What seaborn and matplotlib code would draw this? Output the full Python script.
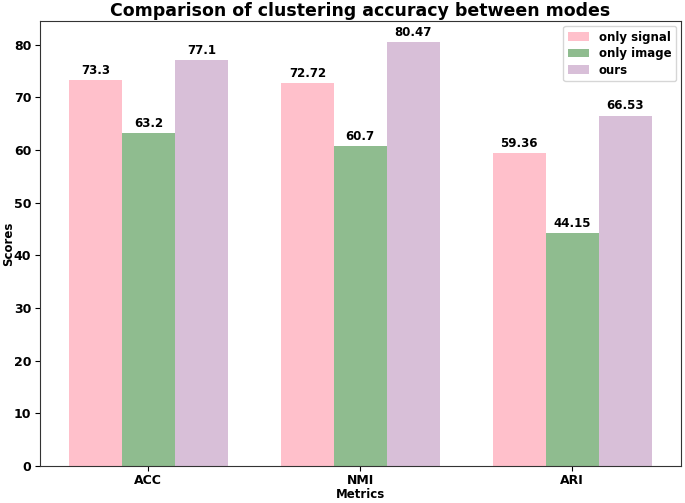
import matplotlib
matplotlib.use("Agg")
import matplotlib.pyplot as plt
import seaborn as sns
import pandas as pd

metrics = ["ACC", "NMI", "ARI"]
modes = ["only signal", "only image", "ours"]
only_signal = [73.3, 72.72, 59.36]
only_image = [63.2, 60.7, 44.15]
ours = [77.1, 80.47, 66.53]
colors = ["#FFC0CB", "#8FBC8F", "#D8BFD8"]

rows = []
for mode, vals in zip(modes, [only_signal, only_image, ours]):
    for m, v in zip(metrics, vals):
        rows.append({"Metrics": m, "Mode": mode, "Scores": v})
df = pd.DataFrame(rows)

fig, ax = plt.subplots(figsize=(6.85, 5.03), dpi=100)
sns.barplot(data=df, x="Metrics", y="Scores", hue="Mode", order=metrics,
            hue_order=modes, palette=colors, saturation=1, width=0.75, ax=ax)

for c in ax.containers:
    ax.bar_label(c, labels=[f"{v:g}" for v in c.datavalues], padding=2.5,
                 fontweight="bold", fontsize=8.5)

ax.set_xlim(-0.5125, 2.5125)
ax.set_ylim(0, 84.5)
ax.set_title("Comparison of clustering accuracy between modes", fontsize=12.5,
             fontweight="bold", pad=4)
ax.set_xlabel("Metrics", fontweight="bold", fontsize=8.5, labelpad=0.5)
ax.set_ylabel("Scores", fontweight="bold", fontsize=8.5)
ax.yaxis.set_label_coords(-0.038, 0.5)
ax.tick_params(axis="both", length=3.5)
ax.tick_params(axis="y", pad=2.5)
ax.tick_params(axis="x", pad=2.5)
for lab in ax.get_xticklabels() + ax.get_yticklabels():
    lab.set_fontweight("bold")
    lab.set_fontsize(9)
leg = ax.legend(loc="upper right", prop={"weight": "bold", "size": 8.5},
                labelspacing=0.3, handlelength=1.8, borderaxespad=0.4)
for s in ax.spines.values():
    s.set_visible(True)
    s.set_color("#333333")

fig.subplots_adjust(left=0.058, right=0.994, top=0.958, bottom=0.074)
fig.savefig("out.png", dpi=100)
